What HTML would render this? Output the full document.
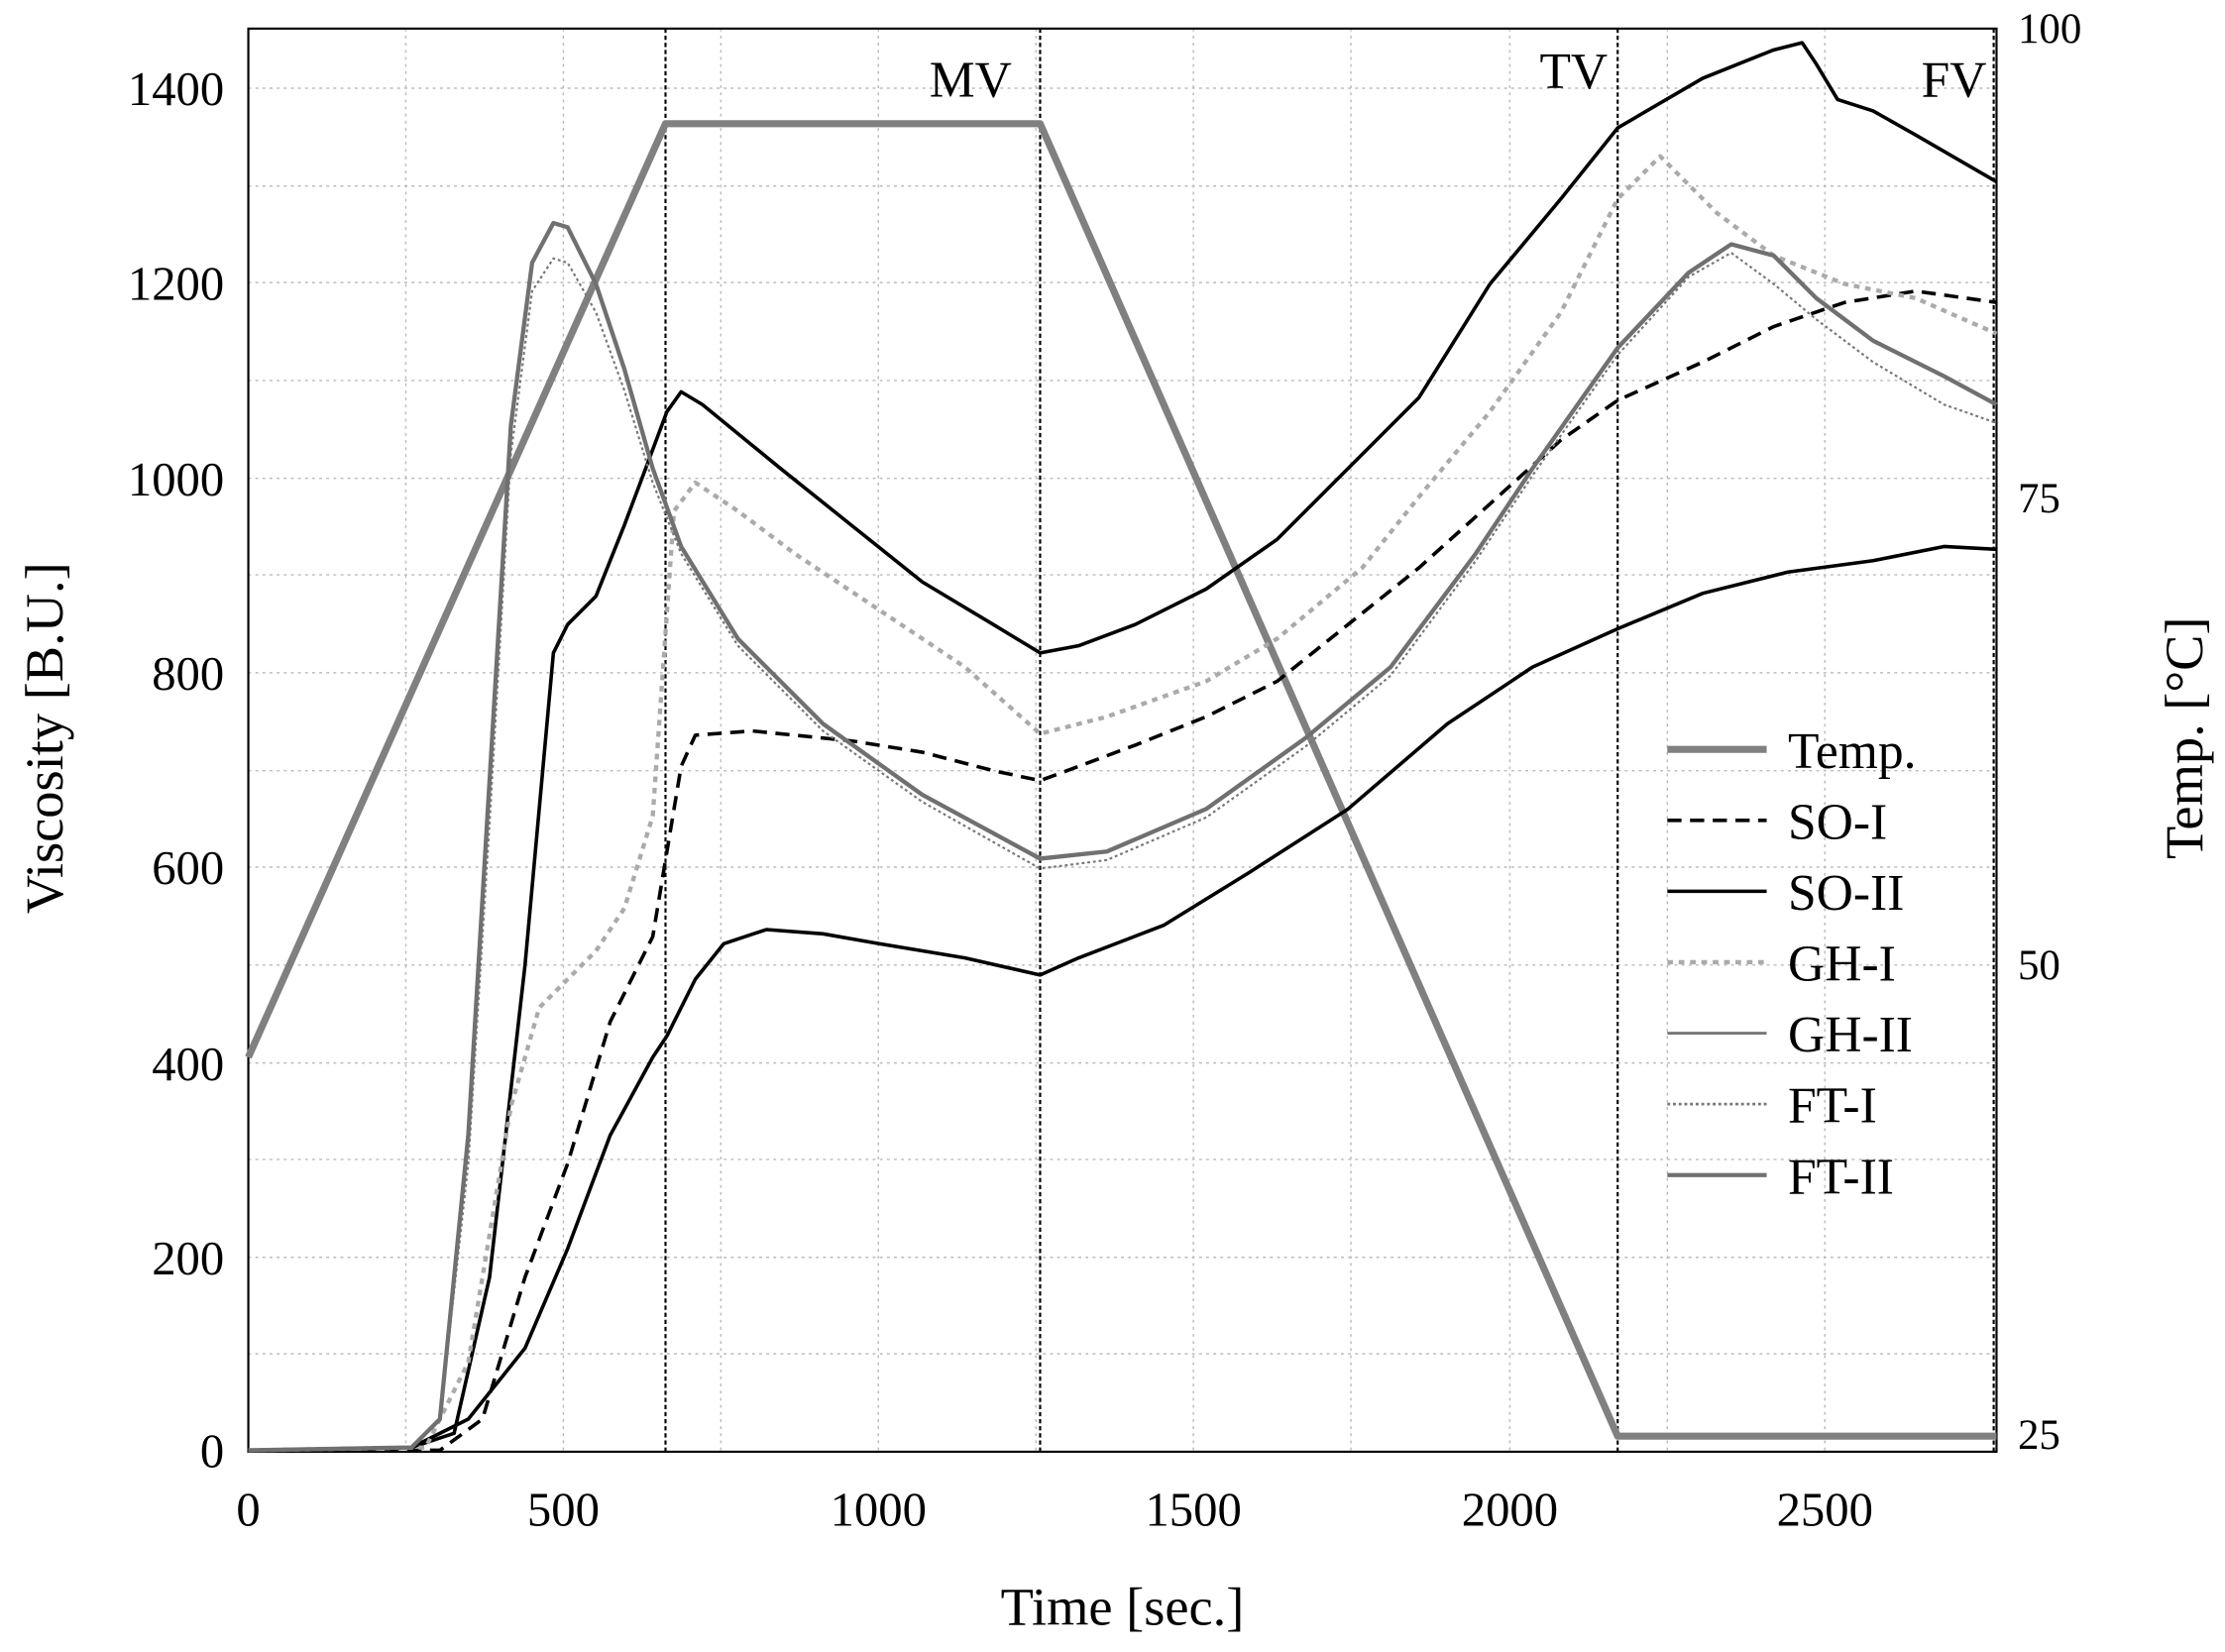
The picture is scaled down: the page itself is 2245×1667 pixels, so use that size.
<!DOCTYPE html>
<html><head><meta charset="utf-8"><style>html,body{margin:0;padding:0;background:#fff}svg{display:block}</style></head>
<body>
<svg width="2245" height="1667" viewBox="0 0 1568 1164" xmlns="http://www.w3.org/2000/svg" font-family="'Liberation Serif',serif">
<rect width="1568" height="1164" fill="#fff"/>
<g stroke="#bbb" stroke-width="1" stroke-dasharray="2,3">
<line x1="286" y1="20" x2="286" y2="1023"/><line x1="397" y1="20" x2="397" y2="1023"/><line x1="508" y1="20" x2="508" y2="1023"/><line x1="619" y1="20" x2="619" y2="1023"/><line x1="730" y1="20" x2="730" y2="1023"/><line x1="841" y1="20" x2="841" y2="1023"/><line x1="952" y1="20" x2="952" y2="1023"/><line x1="1064" y1="20" x2="1064" y2="1023"/><line x1="1175" y1="20" x2="1175" y2="1023"/><line x1="1286" y1="20" x2="1286" y2="1023"/>
<line x1="175" y1="954" x2="1407" y2="954"/><line x1="175" y1="886" x2="1407" y2="886"/><line x1="175" y1="817" x2="1407" y2="817"/><line x1="175" y1="749" x2="1407" y2="749"/><line x1="175" y1="680" x2="1407" y2="680"/><line x1="175" y1="611" x2="1407" y2="611"/><line x1="175" y1="543" x2="1407" y2="543"/><line x1="175" y1="474" x2="1407" y2="474"/><line x1="175" y1="405" x2="1407" y2="405"/><line x1="175" y1="337" x2="1407" y2="337"/><line x1="175" y1="268" x2="1407" y2="268"/><line x1="175" y1="199" x2="1407" y2="199"/><line x1="175" y1="131" x2="1407" y2="131"/><line x1="175" y1="62" x2="1407" y2="62"/>
</g>
<g stroke="#000" stroke-width="1.5" stroke-dasharray="3,2">
<line x1="469" y1="20" x2="469" y2="1023"/><line x1="733" y1="20" x2="733" y2="1023"/><line x1="1140" y1="20" x2="1140" y2="1023"/><line x1="1405" y1="20" x2="1405" y2="1023"/>
</g>
<rect x="175" y="20" width="1232" height="1003" fill="none" stroke="#000" stroke-width="1.5"/>
<g fill="none" stroke-linejoin="round">
<polyline stroke="#808080" stroke-width="5" points="175,745 469,87 733,87 1140,1012 1407,1012"/>
<polyline stroke="#000" stroke-width="2.5" points="175,1022 290,1020 320,1010 345,900 370,680 390,460 400,440 420,420 440,370 455,330 470,290 480,276 495,285 550,330 600,370 650,410 700,440 733,460 760,455 800,440 850,415 900,380 960,320 1000,280 1050,200 1100,140 1140,90 1200,55 1250,35 1270,30 1280,45 1295,70 1320,78 1350,95 1407,128"/>
<polyline stroke="#000" stroke-width="2.5" stroke-dasharray="10,6" points="175,1022 310,1022 340,1000 370,900 400,820 430,720 460,660 480,540 490,518 530,515 600,522 650,530 700,543 733,550 760,540 800,525 850,505 900,480 950,440 1000,400 1050,355 1100,310 1140,282 1200,255 1250,230 1300,213 1350,205 1407,213"/>
<polyline stroke="#000" stroke-width="2.5" points="175,1022 290,1020 330,1000 370,950 400,880 430,800 460,745 470,730 490,690 510,665 540,655 580,658 620,665 680,675 733,687 760,675 820,652 880,615 950,570 1020,510 1080,470 1140,443 1200,418 1260,403 1320,395 1370,385 1407,387"/>
<polyline stroke="#aaa" stroke-width="3" stroke-dasharray="4,4" points="175,1022 300,1020 330,960 360,780 380,710 400,690 420,670 440,640 460,575 475,360 490,340 520,360 560,390 620,430 680,470 733,517 780,505 850,480 900,450 960,400 1000,350 1050,290 1100,220 1140,140 1170,110 1180,120 1210,150 1250,180 1300,200 1350,210 1407,235"/>
<polyline stroke="#777" stroke-width="1.5" stroke-dasharray="2,2" points="175,1022 290,1020 310,1000 330,820 345,580 360,320 375,205 390,182 400,185 420,220 440,275 460,340 480,390 520,455 580,515 650,565 733,612 780,606 850,576 920,526 980,476 1040,395 1080,335 1140,250 1190,195 1220,178 1250,200 1280,225 1320,255 1370,285 1407,298"/>
<polyline stroke="#707070" stroke-width="3" points="175,1022 290,1020 310,1000 330,800 345,550 360,300 375,185 390,157 400,160 420,200 440,260 460,330 480,385 520,450 580,510 650,560 733,605 780,600 850,570 920,520 980,470 1040,390 1080,330 1140,245 1190,192 1220,172 1250,180 1280,210 1320,240 1370,265 1407,285"/>
</g>
<g font-size="34" fill="#000">
<g text-anchor="middle"><text x="175" y="1075">0</text><text x="397" y="1075">500</text><text x="619" y="1075">1000</text><text x="841" y="1075">1500</text><text x="1064" y="1075">2000</text><text x="1286" y="1075">2500</text></g>
<g text-anchor="end"><text x="158" y="1034">0</text><text x="158" y="898">200</text><text x="158" y="761">400</text><text x="158" y="623">600</text><text x="158" y="486">800</text><text x="158" y="349">1000</text><text x="158" y="211">1200</text><text x="158" y="74">1400</text></g>
<g font-size="30"><text x="1422" y="30">100</text><text x="1422" y="361">75</text><text x="1422" y="690">50</text><text x="1422" y="1021">25</text></g>
</g>
<g font-size="36"><text x="655" y="68">MV</text><text x="1085" y="62">TV</text><text x="1354" y="68">FV</text></g>
<text x="791" y="1145" font-size="38" text-anchor="middle">Time [sec.]</text>
<text transform="translate(44,520) rotate(-90)" font-size="38" text-anchor="middle">Viscosity [B.U.]</text>
<text transform="translate(1552,520) rotate(-90)" font-size="38" text-anchor="middle">Temp. [°C]</text>
<g fill="none">
<line x1="1175" y1="528" x2="1245" y2="528" stroke="#808080" stroke-width="5"/>
<line x1="1175" y1="578" x2="1245" y2="578" stroke="#000" stroke-width="2.5" stroke-dasharray="10,6"/>
<line x1="1175" y1="628" x2="1245" y2="628" stroke="#000" stroke-width="2.5"/>
<line x1="1175" y1="678" x2="1245" y2="678" stroke="#aaa" stroke-width="3" stroke-dasharray="4,4"/>
<line x1="1175" y1="728" x2="1245" y2="728" stroke="#777" stroke-width="2"/>
<line x1="1175" y1="778" x2="1245" y2="778" stroke="#777" stroke-width="2" stroke-dasharray="2,2"/>
<line x1="1175" y1="828" x2="1245" y2="828" stroke="#707070" stroke-width="3"/>
</g>
<g font-size="36"><text x="1260" y="541">Temp.</text><text x="1260" y="591">SO-I</text><text x="1260" y="641">SO-II</text><text x="1260" y="691">GH-I</text><text x="1260" y="741">GH-II</text><text x="1260" y="791">FT-I</text><text x="1260" y="841">FT-II</text></g>
</svg>
</body></html>
